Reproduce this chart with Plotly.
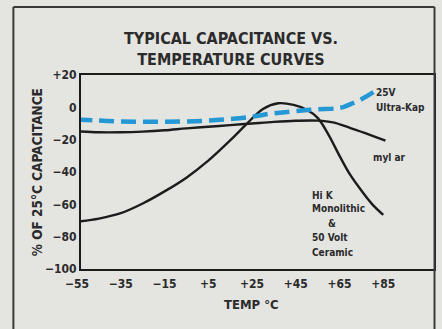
import plotly.graph_objects as go

# Temperature (deg C) and % change of capacitance relative to 25 deg C
ultra_kap_temp = [-55, -45, -35, -25, -15, -5, 5, 15, 25, 33, 40, 48, 55, 63, 67, 71, 75, 80.5]
ultra_kap_pct = [-7.5, -8.2, -8.7, -8.9, -8.9, -8.7, -8.2, -7.2, -5.8, -4, -3, -1.9, -1.2, -0.7, 0.3, 2.5, 5, 9.4]

mylar_temp = [-55, -45, -35, -25, -15, -5, 5, 15, 25, 35, 45, 55, 62, 70, 78, 86]
mylar_pct = [-14.8, -15.4, -15.4, -15, -14.2, -13, -12, -11, -10, -9, -8.3, -8.2, -9.3, -12.8, -16.5, -20.6]

hik_temp = [-55, -45, -35, -25, -15, -5, 5, 15, 22, 30, 37, 44, 50, 55, 60, 65, 70, 75, 80, 85]
hik_pct = [-70.8, -68.8, -65.5, -59.5, -52, -43.5, -33, -20.5, -11, -1, 2.5, 1.5, -1.5, -6.5, -17, -30, -42, -51.5, -60, -66.5]

x_ticks = [-55, -35, -15, 5, 25, 45, 65, 85]
x_tick_text = ["\u221255", "\u221235", "\u221215", "+5", "+25", "+45", "+65", "+85"]
y_ticks = [20, 0, -20, -40, -60, -80, -100]
y_tick_text = ["+20", "0", "\u221220", "\u221240", "\u221260", "\u221280", "\u2212100"]

FONT = "DejaVu Sans Condensed, Liberation Sans Narrow, sans-serif"
INK = "#2b2b2b"
BG = "#e4e4e1"
X_RANGE = [-53.2, 108.2]

fig = go.Figure()
fig.add_trace(go.Scatter(x=mylar_temp, y=mylar_pct, mode="lines",
                         line=dict(color="#1c1c1c", width=2.4, shape="spline"),
                         name="mylar"))
fig.add_trace(go.Scatter(x=hik_temp, y=hik_pct, mode="lines",
                         line=dict(color="#1c1c1c", width=2.4, shape="spline"),
                         name="Hi K"))
fig.add_trace(go.Scatter(x=ultra_kap_temp, y=ultra_kap_pct, mode="lines",
                         line=dict(color="#2398d4", width=4.5, shape="spline",
                                   dash="15px,7px"),
                         name="25V Ultra-Kap"))

W, H = 442, 329
L, R, T, B = 81, 6, 75, 60
pw, ph = W - L - R, H - T - B


def px(xp):
    return (xp - L) / pw


def py(yp):
    return (H - B - yp) / ph


def x_to_paper(v):
    return (v - X_RANGE[0]) / (X_RANGE[1] - X_RANGE[0])


frame = dict(color="#3a3a3a", width=2)
shapes = [
    dict(type="line", xref="paper", yref="paper", x0=px(13), x1=px(13), y0=py(7), y1=py(340), line=frame),
    dict(type="line", xref="paper", yref="paper", x0=px(13), x1=px(436.5), y0=py(7), y1=py(7), line=frame),
    dict(type="line", xref="paper", yref="paper", x0=px(436.5), x1=px(436.5), y0=py(7), y1=py(340), line=frame),
]

note_font = dict(family=FONT, size=10, color=INK)


def note(text, x, y, anchor="left"):
    return dict(text="<b>" + text + "</b>", xref="paper", yref="paper",
                x=px(x), y=py(y), xanchor=anchor, yanchor="middle",
                showarrow=False, font=note_font)


annotations = [
    dict(text="<b>TYPICAL CAPACITANCE VS.<br>TEMPERATURE CURVES</b>", xref="paper", yref="paper",
         x=px(232), y=py(49), xanchor="center", yanchor="middle", showarrow=False,
         font=dict(family=FONT, size=16, color=INK)),
    dict(text="<b>% OF 25\u00b0C CAPACITANCE</b>", xref="paper", yref="paper",
         x=px(37), y=py(172), xanchor="center", yanchor="middle", textangle=-90, showarrow=False,
         font=dict(family=FONT, size=13.5, color=INK)),
    dict(text="<b>TEMP \u00b0C</b>", xref="paper", yref="paper",
         x=px(252), y=py(304), xanchor="center", yanchor="middle", showarrow=False,
         font=dict(family=FONT, size=13, color=INK)),
    # first x tick label sits just left of the plotting area
    dict(text="<b>" + x_tick_text[0] + "</b>", xref="paper", yref="paper",
         x=x_to_paper(x_ticks[0]), y=py(284), xanchor="center", yanchor="middle", showarrow=False,
         font=dict(family=FONT, size=12, color=INK)),
    note("25V", 376, 92),
    note("Ultra-Kap", 376, 107),
    note("myl ar", 373, 157),
    note("Hi K", 311, 195),
    note("Monolithic", 311, 208),
    note("&amp;", 333, 223, "center"),
    note("50 Volt", 311, 237),
    note("Ceramic", 311, 252),
]

fig.update_layout(
    width=W, height=H,
    margin=dict(l=L, r=R, t=T, b=B),
    paper_bgcolor=BG, plot_bgcolor=BG,
    showlegend=False,
    shapes=shapes,
    annotations=annotations,
    xaxis=dict(range=X_RANGE, tickvals=x_ticks[1:], ticktext=["<b>" + t + "</b>" for t in x_tick_text[1:]],
               showgrid=False, zeroline=False, showline=True, mirror=True,
               linecolor="#1c1c1c", linewidth=2, ticks="", ticklabelstandoff=3,
               tickfont=dict(family=FONT, size=12, color=INK)),
    yaxis=dict(range=[-100, 20], tickvals=y_ticks, ticktext=["<b>" + t + "</b>" for t in y_tick_text],
               showgrid=False, zeroline=False, showline=True, mirror=True,
               linecolor="#1c1c1c", linewidth=2, ticks="",
               tickfont=dict(family=FONT, size=12, color=INK)),
)

fig.write_html("out.html")
